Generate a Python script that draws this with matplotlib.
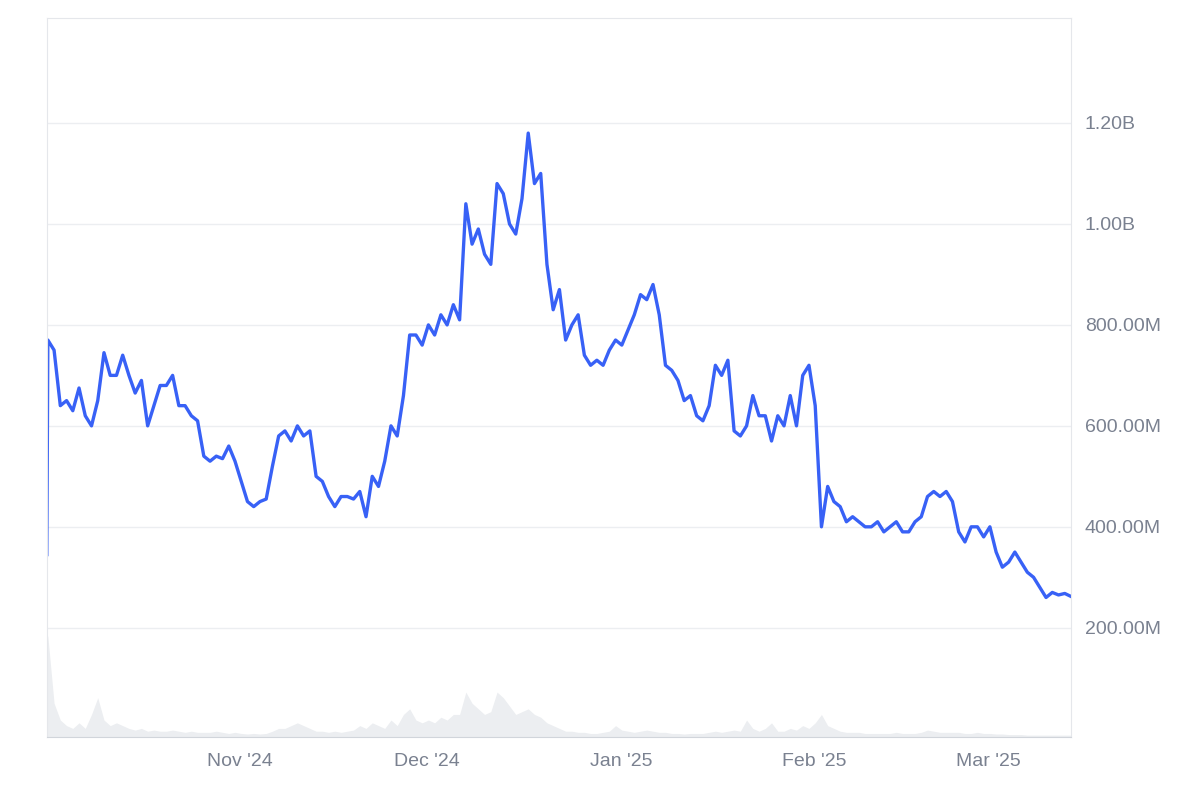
import numpy as np
import pandas as pd
import matplotlib
matplotlib.use('Agg')
import matplotlib.pyplot as plt
import matplotlib.dates as mdates
from matplotlib.ticker import FuncFormatter

plt.rcParams['font.family'] = ['Liberation Sans', 'DejaVu Sans']

# 市值 (百万), 从 2024-10-01 起每日 (首个点为当日开盘低点)
market_cap = [345, 770, 750, 640, 650, 630, 675, 620, 600, 650, 745,
              700, 700, 740, 700, 665, 690, 600, 640, 680, 680,
              700, 640, 640, 620, 610, 540, 530, 540, 535, 560,
              530, 490, 450, 440, 450, 455, 520, 580, 590, 570,
              600, 580, 590, 500, 490, 460, 440, 460, 460, 455,
              470, 420, 500, 480, 530, 600, 580, 660, 780, 780,
              760, 800, 780, 820, 800, 840, 810, 1040, 960, 990,
              940, 920, 1080, 1060, 1000, 980, 1050, 1180, 1080, 1100,
              920, 830, 870, 770, 800, 820, 740, 720, 730, 720,
              750, 770, 760, 790, 820, 860, 850, 880, 820, 720,
              710, 690, 650, 660, 620, 610, 640, 720, 700, 730,
              590, 580, 600, 660, 620, 620, 570, 620, 600, 660,
              600, 700, 720, 640, 400, 480, 450, 440, 410, 420,
              410, 400, 400, 410, 390, 400, 410, 390, 390, 410,
              420, 460, 470, 460, 470, 450, 390, 370, 400, 400,
              380, 400, 350, 320, 330, 350, 330, 310, 300, 280,
              260, 270, 265, 268, 262]

# 成交量 (相对值)
volume = [180, 180, 60, 30, 20, 15, 25, 15, 40, 70, 30,
          20, 25, 20, 15, 12, 15, 10, 12, 10, 10,
          12, 10, 8, 10, 8, 8, 8, 10, 8, 6,
          8, 6, 5, 6, 5, 6, 10, 15, 15, 20,
          25, 20, 15, 10, 10, 8, 10, 8, 10, 12,
          20, 15, 25, 20, 15, 30, 20, 40, 50, 30,
          25, 30, 25, 35, 30, 40, 40, 80, 60, 50,
          40, 45, 80, 70, 55, 40, 45, 50, 40, 35,
          25, 20, 15, 10, 10, 8, 8, 6, 6, 8,
          10, 20, 12, 10, 8, 10, 12, 10, 8, 8,
          6, 6, 5, 6, 6, 6, 8, 10, 8, 10,
          12, 10, 30, 15, 10, 15, 25, 10, 10, 15,
          12, 20, 15, 25, 40, 20, 15, 10, 8, 8,
          8, 6, 6, 6, 6, 6, 8, 6, 6, 6,
          8, 12, 10, 8, 8, 8, 8, 6, 6, 8,
          6, 6, 5, 5, 4, 4, 4, 3, 3, 3,
          3, 3, 3, 3, 3]

daily = pd.date_range("2024-10-01 04:00", periods=len(market_cap) - 1, freq="D")
dates = pd.DatetimeIndex([pd.Timestamp("2024-10-01 00:00")]).append(daily)
values = np.array(market_cap) * 1e6

fig = plt.figure(figsize=(12, 8), dpi=100)
ax = fig.add_axes([0.039, 0.079, 0.8535, 0.8985])
ax2 = ax.twinx()

ax2.fill_between(dates, volume, color='#eceef1', linewidth=0)
ax2.set_ylim(0, max(volume) / 0.14)
ax2.set_yticks([])
for s in ax2.spines.values():
    s.set_visible(False)

ax.set_zorder(ax2.get_zorder() + 1)
ax.patch.set_visible(False)
ax.plot(dates, values, color='#3861f6', linewidth=2.4, solid_joinstyle='round')

ax.set_ylim(-16e6, 1408e6)
ax.set_xlim(dates[0], dates[-1])
ax.set_yticks([200e6, 400e6, 600e6, 800e6, 1000e6, 1200e6])


def fmt(v, pos):
    if v >= 1e9:
        return f"{v/1e9:.2f}B"
    return f"{v/1e6:.2f}M"


ax.yaxis.set_major_formatter(FuncFormatter(fmt))
ax.yaxis.tick_right()
ax.grid(axis='y', color='#eceef1', linewidth=1)
ax.tick_params(axis='y', length=0, pad=10, labelsize=14, labelcolor='#7a8190')
ax.tick_params(axis='x', length=0, pad=12, labelsize=14, labelcolor='#7a8190')

ax.set_xticks(pd.to_datetime(["2024-11-01", "2024-12-01", "2025-01-01", "2025-02-01", "2025-03-01"]))
ax.xaxis.set_major_formatter(mdates.DateFormatter("%b '%y"))

for name, s in ax.spines.items():
    s.set_color('#e5e7eb')
ax.spines['bottom'].set_color('#d1d5db')

plt.savefig("out.png", dpi=100)
plt.close(fig)
